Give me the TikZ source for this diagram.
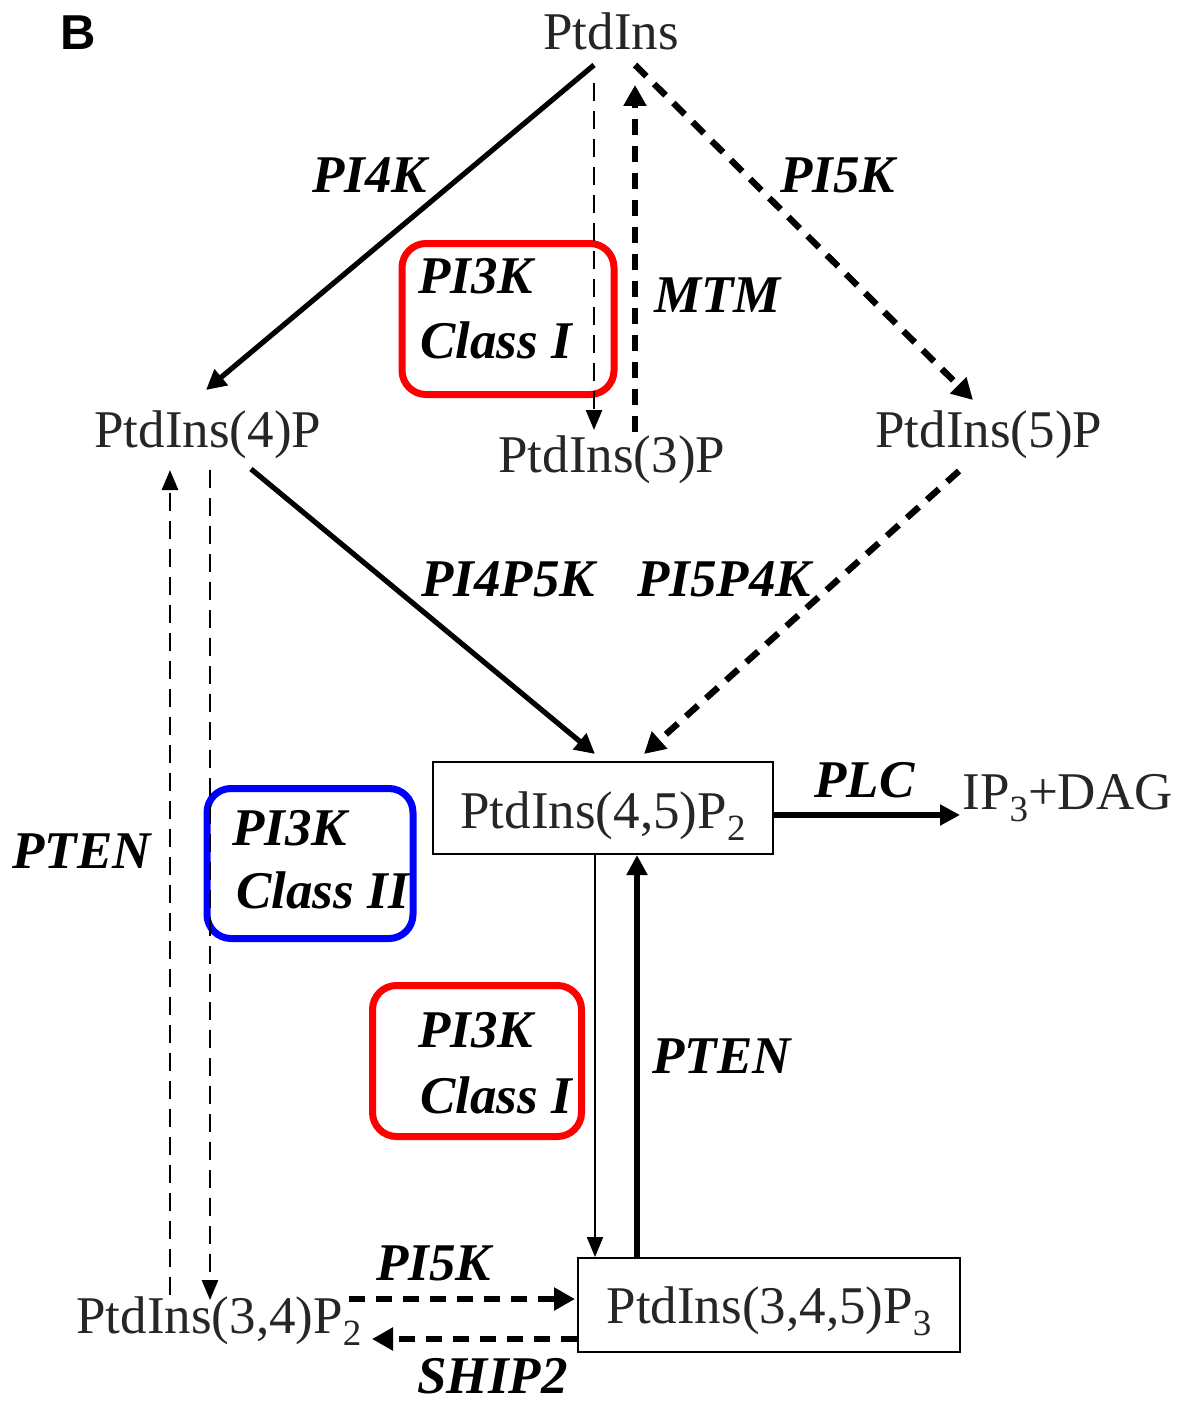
\documentclass[tikz,border=0pt]{standalone}
\usepackage{fontspec}
\setmainfont{Liberation Serif}
\newfontfamily\panelfont{Liberation Sans}
\usetikzlibrary{arrows.meta}
\newcommand\chemsz{\fontsize{26.5}{30}\selectfont}
\newcommand\mysubs[1]{\raisebox{-6pt}{\fontsize{18.5}{20}\selectfont #1}}
\begin{document}
\begin{tikzpicture}[x=0.5pt,y=-0.5pt,
  chem/.style={font=\chemsz, inner sep=0pt, anchor=base west, text=black!85},
  enz/.style={font=\chemsz\bfseries\itshape, inner sep=0pt, anchor=base west},
  chembox/.style={draw, line width=1pt, font=\chemsz, text=black!85, inner sep=0pt, text depth=0pt},
  enzbox/.style={draw, line width=3.5pt, rounded corners=12pt, inner sep=0pt},
  thickarr/.style={line width=2.6pt, -{Triangle[length=10pt,width=10pt]}},
  thickdasharr/.style={line width=3.2pt, dash pattern=on 8pt off 5.5pt, -{Triangle[length=10.5pt,width=11pt]}},
  thinarr/.style={line width=1.1pt, -{Triangle[length=10pt,width=8pt]}},
  thindasharr/.style={line width=1.4pt, dash pattern=on 9pt off 5pt, -{Triangle[length=10pt,width=8pt]}}
]
\useasboundingbox (0,0) rectangle (1179,1402);
\fill[white] (0,0) rectangle (1179,1402);

% panel letter
\node[inner sep=0pt, anchor=base west, font=\panelfont\bfseries\fontsize{24.5}{26}\selectfont] (panel) at (60,50) {B};

% chemical species
\node[chem] (top) at (543,50) {PtdIns};
\node[chem] (p4) at (94,447) {PtdIns(4)P};
\node[chem] (p3) at (498,472) {PtdIns(3)P};
\node[chem] (p5) at (875,447) {PtdIns(5)P};
\node[chembox, minimum width=170pt, minimum height=46pt, text height=20pt] (b45) at (603,808) {PtdIns(4,5)P\mysubs{2}};
\node[chembox, minimum width=191pt, minimum height=47pt, text height=18pt] (b345) at (769,1305) {PtdIns(3,4,5)P\mysubs{3}};
\node[chem] (ip3) at (962,809) {IP\mysubs{3}+DAG};
\node[chem] (p34) at (76,1333) {PtdIns(3,4)P\mysubs{2}};

% enzyme boxes
\node[enzbox, draw=red, minimum width=106pt, minimum height=75.5pt] (rbox1) at (508,319) {};
\node[enzbox, draw=blue, minimum width=103pt, minimum height=75pt] (bbox) at (310,863.5) {};
\node[enzbox, draw=red, minimum width=104.5pt, minimum height=75.5pt] (rbox2) at (477,1061) {};

% enzyme labels
\node[enz] (l1) at (312,192) {PI4K};
\node[enz] (l2) at (780,192) {PI5K};
\node[enz] (l3) at (654,312) {MTM};
\node[enz] (l4) at (418,293) {PI3K};
\node[enz] (l5) at (420,358) {Class I};
\node[enz] (l6) at (421,596) {PI4P5K};
\node[enz] (l7) at (637,596) {PI5P4K};
\node[enz] (l8) at (814,797) {PLC};
\node[enz] (l9) at (232,845) {PI3K};
\node[enz] (l10) at (236,908) {Class II};
\node[enz] (l11) at (12,868) {PTEN};
\node[enz] (l12) at (418,1047) {PI3K};
\node[enz] (l13) at (420,1113) {Class I};
\node[enz] (l14) at (652,1073) {PTEN};
\node[enz] (l15) at (376,1280) {PI5K};
\node[enz] (l16) at (417,1393) {SHIP2};

% connectors
\draw[thickarr] ([shift={(51,15)}]top.base west) -- ([shift={(112,-57)}]p4.base west);
\draw[thindasharr] ([shift={(51,33)}]top.base west) -- ([shift={(96,-42)}]p3.base west);
\draw[thickdasharr] ([shift={(137,-40)}]p3.base west) -- ([shift={(92,35)}]top.base west);
\draw[thickdasharr] ([shift={(92,15)}]top.base west) -- ([shift={(98,-47)}]p5.base west);
\draw[thickarr] ([shift={(157,22)}]p4.base west) -- ([shift={(-8,-7)}]b45.north);
\draw[thickdasharr] ([shift={(84,24)}]p5.base west) -- ([shift={(41,-7)}]b45.north);
\draw[thindasharr] ([shift={(94,-38)}]p34.base west) -- ([shift={(76,23)}]p4.base west);
\draw[thindasharr] ([shift={(116,23)}]p4.base west) -- ([shift={(134,-33)}]p34.base west);
\draw[thickarr] ([shift={(0,7)}]b45.east) -- ([shift={(-2,6)}]ip3.base west);
\draw[thinarr] ([shift={(-8,0)}]b45.south) -- ([shift={(-174,0)}]b345.north);
\draw[thickarr] ([shift={(-132,0)}]b345.north) -- ([shift={(34,0)}]b45.south);
\draw[thickdasharr] ([shift={(273,-34)}]p34.base west) -- ([shift={(-2,-6)}]b345.west);
\draw[thickdasharr] ([shift={(0,34)}]b345.west) -- ([shift={(296,6)}]p34.base west);
\end{tikzpicture}
\end{document}
